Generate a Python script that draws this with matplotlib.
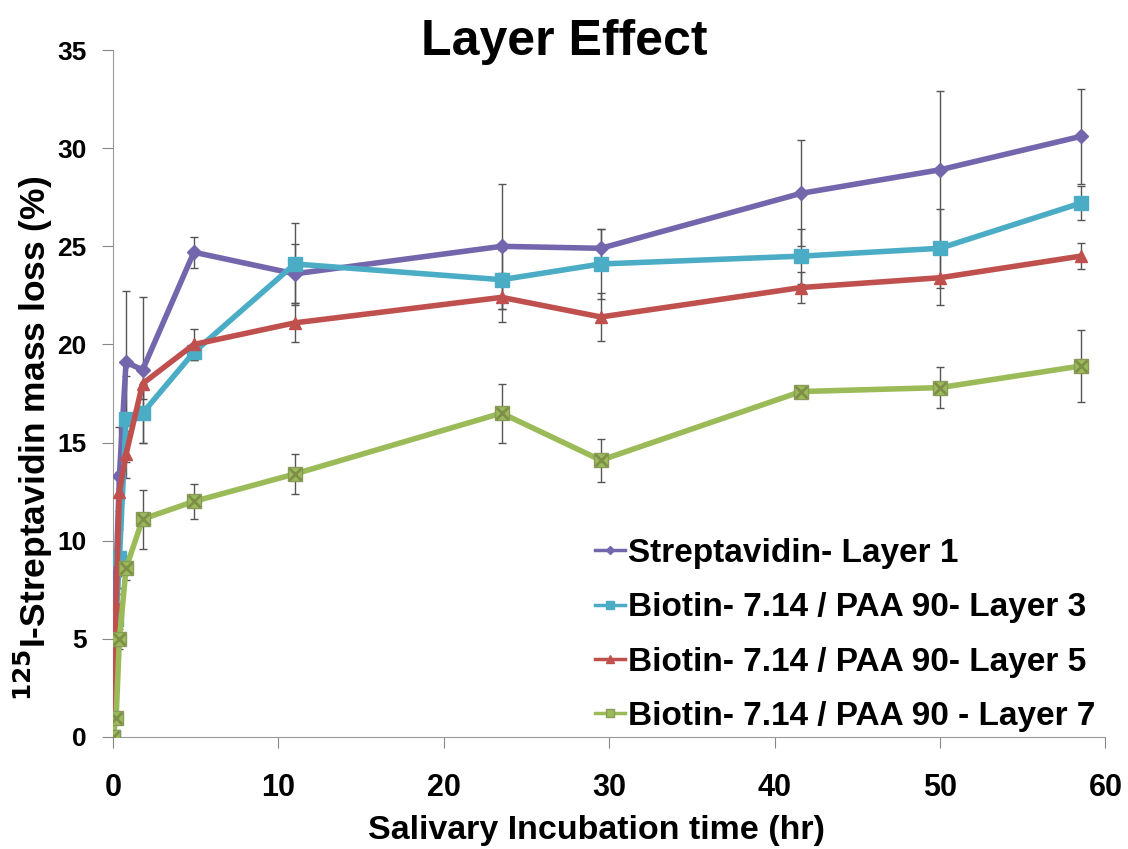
import matplotlib
matplotlib.use("Agg")
import matplotlib.pyplot as plt

plt.rcParams["font.family"] = ["Liberation Sans", "DejaVu Sans"]
plt.rcParams["font.weight"] = "bold"
plt.rcParams["mathtext.default"] = "bf"

# time points (hr)
hours = [0, 0.2, 0.4, 0.8, 1.8, 4.9, 11, 23.5, 29.5, 41.6, 50, 58.5]

layer1 = [0, 8.3, 13.3, 19.1, 18.7, 24.7, 23.6, 25.0, 24.9, 27.7, 28.9, 30.6]
layer1_err = [0, 1.0, 2.5, 3.6, 3.7, 0.8, 1.5, 3.2, 1.0, 2.7, 4.0, 2.4]

layer3 = [0, 6.0, 9.1, 16.2, 16.5, 19.6, 24.1, 23.3, 24.1, 24.5, 24.9, 27.2]
layer3_err = [0, 0.8, 1.5, 2.2, 1.5, 0.4, 2.1, 1.5, 1.8, 1.4, 2.0, 0.85]

layer5 = [0, 6.7, 12.5, 14.4, 18.0, 20.0, 21.1, 22.4, 21.4, 22.9, 23.4, 24.5]
layer5_err = [0, 0.6, 1.0, 1.2, 0.8, 0.8, 1.0, 1.25, 1.2, 0.8, 1.4, 0.65]

layer7 = [0, 0.97, 5.0, 8.6, 11.1, 12.0, 13.4, 16.5, 14.1, 17.6, 17.8, 18.9]
layer7_err = [0, 0.2, 0.5, 0.6, 1.5, 0.9, 1.0, 1.5, 1.1, 0.2, 1.05, 1.85]

labels = [
    "Streptavidin- Layer 1",
    "Biotin- 7.14 / PAA 90- Layer 3",
    "Biotin- 7.14 / PAA 90- Layer 5",
    "Biotin- 7.14 / PAA 90 - Layer 7",
]
colors = ["#7466AC", "#4BACC6", "#C0504D", "#9BBB59"]
markers = ["D", "s", "^", "s"]
msizes = [7, 10, 9, 10]

fig = plt.figure(figsize=(11.28, 8.49), dpi=100)
ax = fig.add_axes([0.1, 0.132, 0.88, 0.809])

series = [(layer1, layer1_err), (layer3, layer3_err), (layer5, layer5_err), (layer7, layer7_err)]
for (vals, errs), lab, c, m, ms in zip(series, labels, colors, markers, msizes):
    # error bars first, kept out of the legend
    ax.errorbar(hours, vals, yerr=errs, fmt="none", ecolor="#555555",
                elinewidth=1, capsize=3, capthick=1, zorder=2)
    ax.plot(hours, vals, color=c, lw=4, marker=m, ms=ms, mfc=c,
            mec="#8A9A5B" if c == "#9BBB59" else c, label=lab, zorder=3)

# the layer 7 marker is a square with an x on it
ax.plot(hours, layer7, ls="none", marker="x", ms=8, mew=2, color="#7F8F4A", zorder=4)

ax.set_xlim(0, 60)
ax.set_ylim(0, 35)
ax.set_xticks(range(0, 61, 10))
ax.set_yticks(range(0, 36, 5))
ax.tick_params(colors="#888888", labelcolor="black", length=8)
ax.tick_params(axis="x", labelsize=22, pad=18)
ax.tick_params(axis="y", labelsize=19, pad=11)
for side in ["top", "right"]:
    ax.spines[side].set_visible(False)
for side in ["left", "bottom"]:
    ax.spines[side].set_color("#999999")

ax.set_xlabel("Salivary Incubation time (hr)", fontsize=24.5, fontweight="bold")
ax.xaxis.set_label_coords(0.487, -0.113)
ax.set_ylabel(r"$^{125}$I-Streptavidin mass loss (%)", fontsize=25.5, fontweight="bold")
ax.yaxis.set_label_coords(-0.058, 0.435)
fig.suptitle("Layer Effect", fontsize=36, fontweight="bold", x=0.5, y=0.978)

leg = ax.legend(loc="lower right", bbox_to_anchor=(1.01, -0.022), frameon=False,
                fontsize=24, handlelength=0.9, handletextpad=0.1, labelspacing=0.7,
                borderaxespad=0.2, markerscale=0.6)
for t in leg.get_texts():
    t.set_fontweight("bold")
for h in leg.get_lines():
    h.set_linewidth(2.5)

fig.savefig("out.png", dpi=100)
